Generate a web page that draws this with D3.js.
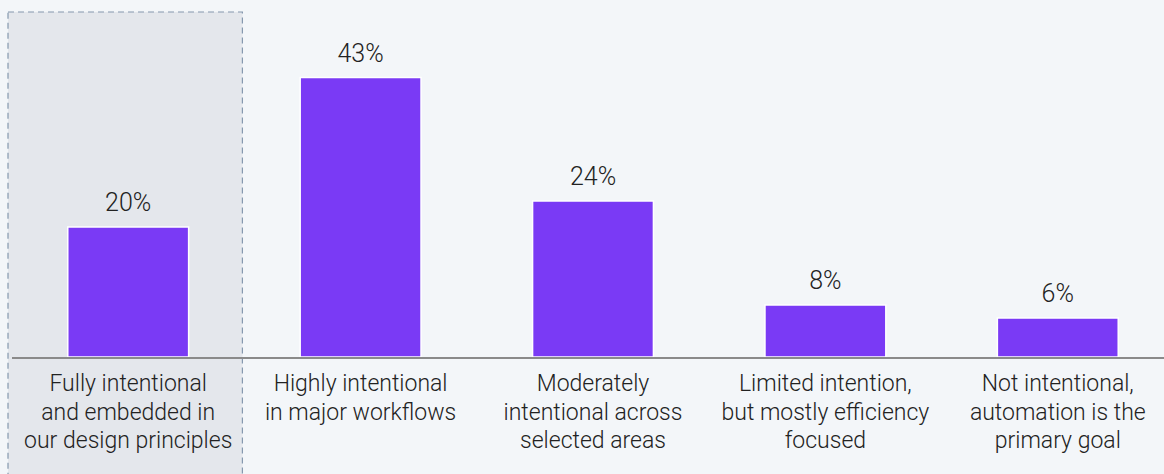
<!DOCTYPE html>
<html>
<head>
<meta charset="utf-8">
<script src="https://cdn.jsdelivr.net/npm/d3@7"></script>
<style>
  body { margin: 0; background: #f3f6f9; }
  svg { display: block; font-family: Roboto, "Liberation Sans", Arial, sans-serif; font-weight: 300; }
</style>
</head>
<body>
<div id="chart"></div>
<script>
const categories = [
  ["Fully intentional", "and embedded in", "our design principles"],
  ["Highly intentional", "in major workflows"],
  ["Moderately", "intentional across", "selected areas"],
  ["Limited intention,", "but mostly efficiency", "focused"],
  ["Not intentional,", "automation is the", "primary goal"]
];
const values = [20, 43, 24, 8, 6];
const highlighted = 0;

const w = 1164;
const h = 474;
const baseY = 357;

const svg = d3.select("#chart")
  .append("svg")
  .attr("width", w)
  .attr("height", h);

const xScale = d3.scaleBand()
  .domain(d3.range(values.length))
  .range([12, 1174])
  .paddingInner(0.48)
  .paddingOuter(0.24);

const yScale = d3.scaleLinear()
  .domain([0, 50])
  .range([baseY, 32]);

// highlight column
svg.append("rect")
  .attr("x", xScale(highlighted) - xScale.step() * 0.24 - 4)
  .attr("y", 12)
  .attr("width", xScale.step() + 2)
  .attr("height", h)
  .style("fill", "#e4e7ec")
  .style("stroke", "#8598ae")
  .style("stroke-width", 1.2)
  .style("stroke-dasharray", "6,4");

svg.selectAll(".bar")
  .data(values)
  .enter()
  .append("rect")
  .attr("class", "bar")
  .attr("x", (d, i) => xScale(i))
  .attr("y", d => yScale(d))
  .attr("width", xScale.bandwidth())
  .attr("height", d => baseY - yScale(d))
  .style("fill", "#7a3af5")
  .style("stroke", "#ffffff")
  .style("stroke-width", 1.5);

svg.selectAll(".val")
  .data(values)
  .enter()
  .append("text")
  .attr("class", "val")
  .attr("x", (d, i) => xScale(i) + xScale.bandwidth() / 2)
  .attr("y", d => yScale(d) - 16)
  .attr("text-anchor", "middle")
  .style("font-size", "25px")
  .style("fill", "#222")
  .text(d => d + "%");

svg.append("line")
  .attr("x1", 12)
  .attr("x2", w)
  .attr("y1", baseY + 1)
  .attr("y2", baseY + 1)
  .style("stroke", "#8a8a8a")
  .style("stroke-width", 2);

const labels = svg.selectAll(".cat")
  .data(categories)
  .enter()
  .append("text")
  .attr("class", "cat")
  .attr("text-anchor", "middle")
  .style("font-size", "23px")
  .style("fill", "#222");

labels.each(function(lines, i) {
  const t = d3.select(this);
  lines.forEach((line, j) => {
    t.append("tspan")
      .attr("x", xScale(i) + xScale.bandwidth() / 2)
      .attr("y", 391 + j * 28.5)
      .text(line);
  });
});
</script>
</body>
</html>
